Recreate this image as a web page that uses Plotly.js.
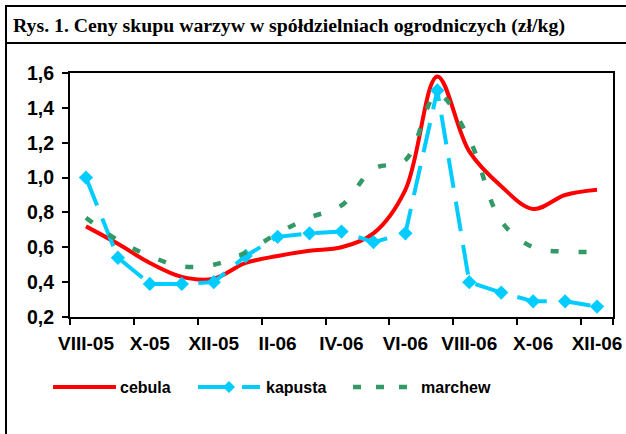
<!DOCTYPE html>
<html><head><meta charset="utf-8">
<script src="https://cdn.plot.ly/plotly-3.0.1.min.js"></script>
<style>html,body{margin:0;padding:0;background:#fff}#chart{width:626px;height:434px}</style>
</head><body><div id="chart"></div>
<script>
const months = ['VIII-05','IX-05','X-05','XI-05','XII-05','I-06','II-06','III-06','IV-06','V-06','VI-06','VII-06','VIII-06','IX-06','X-06','XI-06','XII-06'];
const tickLabels = ['VIII-05','X-05','XII-05','II-06','IV-06','VI-06','VIII-06','X-06','XII-06'];
const cebula  = [0.72, 0.62, 0.51, 0.43, 0.42, 0.51, 0.55, 0.58, 0.60, 0.68, 0.93, 1.58, 1.15, 0.95, 0.82, 0.90, 0.93];
const kapusta = [1.00, 0.54, 0.39, 0.39, 0.40, 0.55, 0.66, 0.68, 0.69, 0.63, 0.68, 1.50, 0.40, 0.34, 0.29, 0.29, 0.26];
const marchew = [0.77, 0.64, 0.55, 0.49, 0.50, 0.57, 0.68, 0.77, 0.84, 1.05, 1.10, 1.48, 1.22, 0.75, 0.60, 0.575, 0.575];
const seriesNames = ['cebula', 'kapusta', 'marchew'];
const titleText = 'Rys. 1. Ceny skupu warzyw w spółdzielniach ogrodniczych (zł/kg)';

const W = 626, H = 434, L = 70, R = 13, T = 73, B = 117;
const pw = W - L - R, ph = H - T - B;
const px = x => (x - L) / pw;
const py = y => (H - B - y) / ph;

const RED = '#FF0000', CYAN = '#00CCFF', GREEN = '#339966';
const FONT = 'Liberation Sans, Arial, sans-serif';

const traces = [
  {x: months, y: cebula, name: seriesNames[0], type: 'scatter', mode: 'lines',
   line: {color: RED, width: 4, shape: 'spline', smoothing: 1}},
  {x: months, y: kapusta, name: seriesNames[1], type: 'scatter', mode: 'lines+markers',
   line: {color: CYAN, width: 4, dash: '30px,14px'},
   marker: {symbol: 'diamond', size: 11, color: CYAN}},
  {x: months, y: marchew, name: seriesNames[2], type: 'scatter', mode: 'lines',
   line: {color: GREEN, width: 4.5, dash: '8px,20px', shape: 'spline', smoothing: 1}}
];

const legY = py(387);
const shapes = [
  // outer frame
  {type: 'line', xref: 'paper', yref: 'paper', x0: px(6), x1: px(6), y0: py(5), y1: py(440), line: {color: '#000', width: 2}},
  {type: 'line', xref: 'paper', yref: 'paper', x0: px(5), x1: px(640), y0: py(6), y1: py(6), line: {color: '#000', width: 2}},
  {type: 'line', xref: 'paper', yref: 'paper', x0: px(5), x1: px(640), y0: py(43), y1: py(43), line: {color: '#000', width: 2}},
  // legend samples
  {type: 'line', xref: 'paper', yref: 'paper', x0: px(53), x1: px(116), y0: legY, y1: legY, line: {color: RED, width: 4}},
  {type: 'line', xref: 'paper', yref: 'paper', x0: px(198), x1: px(232), y0: legY, y1: legY, line: {color: CYAN, width: 4}},
  {type: 'line', xref: 'paper', yref: 'paper', x0: px(242), x1: px(260), y0: legY, y1: legY, line: {color: CYAN, width: 4}},
  {type: 'path', xref: 'paper', yref: 'paper',
   path: `M ${px(223)} ${legY} L ${px(229)} ${py(381)} L ${px(235)} ${legY} L ${px(229)} ${py(393)} Z`,
   fillcolor: CYAN, line: {color: CYAN, width: 0}},
  {type: 'line', xref: 'paper', yref: 'paper', x0: px(353), x1: px(408), y0: legY, y1: legY, line: {color: GREEN, width: 4.5, dash: '8px,15px'}}
];

const annotations = [
  {xref: 'paper', yref: 'paper', x: px(11), y: py(26), xanchor: 'left', yanchor: 'middle', showarrow: false,
   text: '<b>' + titleText + '</b>', font: {family: 'Liberation Serif, Times New Roman, serif', size: 19.75, color: '#000'}},
  {xref: 'paper', yref: 'paper', x: px(118), y: legY, xanchor: 'left', yanchor: 'middle', showarrow: false,
   text: '<b>' + seriesNames[0] + '</b>', font: {family: FONT, size: 16, color: '#000'}},
  {xref: 'paper', yref: 'paper', x: px(264), y: legY, xanchor: 'left', yanchor: 'middle', showarrow: false,
   text: '<b>' + seriesNames[1] + '</b>', font: {family: FONT, size: 16, color: '#000'}},
  {xref: 'paper', yref: 'paper', x: px(419), y: legY, xanchor: 'left', yanchor: 'middle', showarrow: false,
   text: '<b>' + seriesNames[2] + '</b>', font: {family: FONT, size: 16, color: '#000'}}
];

const layout = {
  width: W, height: H,
  margin: {l: L, r: R, t: T, b: B, pad: 0},
  paper_bgcolor: '#fff', plot_bgcolor: '#fff',
  showlegend: false,
  separators: ', ',
  xaxis: {
    type: 'category', categoryorder: 'array', categoryarray: months,
    range: [-0.5, months.length - 0.5],
    tickmode: 'array', tickvals: tickLabels, ticktext: tickLabels,
    tickson: 'boundaries', tickangle: 0,
    ticks: 'outside', ticklen: 6, tickwidth: 2, tickcolor: '#000',
    showline: true, linewidth: 2, linecolor: '#000', mirror: true,
    showgrid: false, zeroline: false,
    ticklabelstandoff: 8,
    tickfont: {family: FONT, size: 19, color: '#000', weight: 'bold'}
  },
  yaxis: {
    range: [0.2, 1.6], tick0: 0.2, dtick: 0.2, tickformat: '.1f',
    ticks: 'outside', ticklen: 6, tickwidth: 2, tickcolor: '#000',
    showline: true, linewidth: 2, linecolor: '#000', mirror: true,
    showgrid: false, zeroline: false,
    ticklabelstandoff: 4,
    tickfont: {family: FONT, size: 19.5, color: '#000', weight: 'bold'}
  },
  shapes: shapes,
  annotations: annotations
};

Plotly.newPlot('chart', traces, layout, {staticPlot: true, displayModeBar: false});
</script>
</body></html>
